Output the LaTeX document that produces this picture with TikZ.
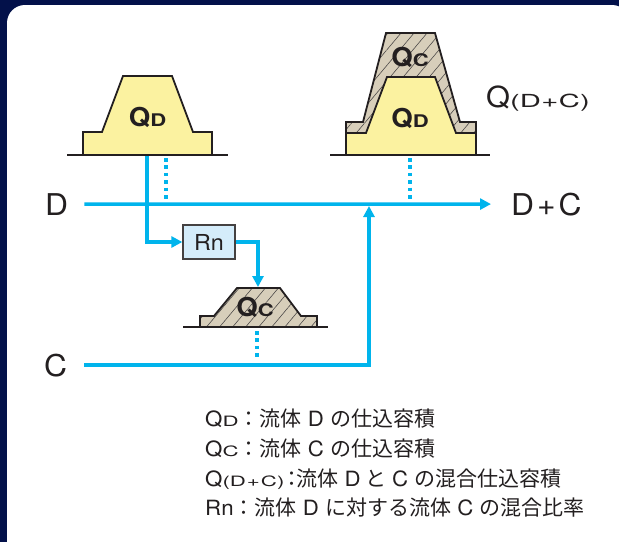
\documentclass[tikz,border=0pt]{standalone}
\usepackage{graphicx}
\usepackage{fontspec}
\setmainfont[FakeStretch=1.06]{TeX Gyre Heros}
\newfontfamily\jpfont{Noto Sans CJK JP}
\usetikzlibrary{positioning,arrows.meta,patterns.meta}

\definecolor{navy}{RGB}{3,17,74}
\definecolor{flow}{RGB}{0,180,236}
\definecolor{sand}{RGB}{251,242,160}
\definecolor{mud}{RGB}{215,206,186}
\definecolor{ink}{RGB}{35,31,32}
\definecolor{boxblue}{RGB}{212,236,250}

\newcommand\ja[1]{{\jpfont #1}}
% reduced letters: full width, squashed height
\newcommand\lsub[1]{\scalebox{1}[0.68]{#1}}
\newcommand\msub[1]{\scalebox{0.8}[0.67]{#1}}
\newcommand\qsub[1]{\scalebox{0.95}[0.62]{#1}}

\tikzset{
  flowline/.style={draw=flow, line width=3.4pt, line join=miter},
  flowarrow/.style={flowline, -{Triangle[length=11pt,width=11pt]}},
  dotline/.style={draw=flow, line width=3.4pt, dash pattern=on 3.6pt off 3.8pt},
  ground/.style={draw=ink, line width=1.8pt},
  dry/.style={draw=ink, line width=1.8pt, fill=sand},
  wet/.style={draw=ink, line width=1.8pt, preaction={fill=mud},
    pattern={Lines[angle=50,distance=10pt,line width=0.55pt]}, pattern color=ink!85},
  biglabel/.style={font=\fontsize{30}{30}\selectfont, anchor=base west},
  moundlabel/.style={font=\fontsize{26}{26}\selectfont\bfseries, anchor=base},
  legend/.style={font=\fontsize{21}{21}\selectfont, anchor=base west},
  ratiobox/.style={draw=ink!85, line width=1.3pt, fill=boxblue,
    minimum width=52pt, minimum height=34pt, font=\fontsize{22}{22}\selectfont}
}

\begin{document}
\begin{tikzpicture}[x=1pt, y=-1pt, every node/.style={inner sep=0pt, text=ink}]
\useasboundingbox (0,0) rectangle (619,542);
\fill[navy] (0,0) rectangle (619,542);
\fill[white, rounded corners=18pt] (7,5) rectangle (630,560);

% fluid D alone
\filldraw[dry] (83,155) -- (83,132) -- (102,132) -- (123,76) -- (172,76)
  -- (193,132) -- (212,132) -- (212,155) -- cycle;
\draw[ground] (67,155) -- (228,155);
\node[moundlabel] (qd) at (147.5,126) {Q\msub{D}};

% fluid C alone
\filldraw[wet] (200,327) -- (200,316) -- (214,316) -- (237,288) -- (280,288)
  -- (301,316) -- (317,316) -- (317,327) -- cycle;
\draw[ground] (183,327) -- (328,327);
\node[moundlabel] (qc) at (255,316) {Q\msub{C}};

% mixed D+C
\filldraw[wet] (346,155) -- (346,122) -- (363,122) -- (386,33) -- (435,33)
  -- (460,122) -- (476,122) -- (476,155) -- cycle;
\filldraw[dry] (346,155) -- (346,133) -- (366,133) -- (387,77) -- (435,77)
  -- (456,133) -- (476,133) -- (476,155) -- cycle;
\draw[ground] (330,155) -- (490,155);
\node[moundlabel] (qdmix) at (410,127) {Q\msub{D}};
\node[moundlabel] (qcmix) at (410,66) {Q\msub{C}};
\node[font=\fontsize{29}{29}\selectfont, anchor=base west] (qdc) at (486,107)
  {Q\qsub{(D\kern0.5pt+\kern0.5pt C)}};

% streams
\node[biglabel] (dlabel) at (45,215) {D};
\node[biglabel] (clabel) at (44,376) {C};
\node[biglabel] (dclabel) at (511,215) {D\kern3pt+\kern3pt C};
\node[ratiobox] (rn) at (209,242) {Rn};

\coordinate[right=16pt of dlabel] (dsrc);
\coordinate[left=20pt of dclabel] (dend);
\coordinate[right=17pt of clabel] (csrc);
\coordinate (join) at (369,206);
\coordinate (qdout) at (147,156);
\coordinate (qcin) at (258,287);

\draw[flowarrow] (dsrc) -- (dend);
\draw[flowarrow] (csrc) -| (join);
\draw[flowarrow] (qdout) |- (rn.west);
\draw[flowarrow] (rn.east) -| (qcin);

\coordinate (dottop1) at (166,158);
\coordinate (dotend1) at (166,201);
\coordinate (dottop2) at (410,158);
\coordinate (dotend2) at (410,201);
\coordinate (dottop3) at (257,331);
\coordinate (dotend3) at (257,360);
\draw[dotline] (dottop1) -- (dotend1);
\draw[dotline] (dottop2) -- (dotend2);
\draw[dotline] (dottop3) -- (dotend3);

% key
\node[legend] (key1) at (205,426) {Q\lsub{D}\ja{：流体} D \ja{の仕込容積}};
\node[legend] (key2) at (205,456) {Q\lsub{C}\ja{：流体} C \ja{の仕込容積}};
\node[legend] (key3) at (205,486) {Q\lsub{(D\kern1pt+\kern1pt C)}\kern-3pt\ja{：}\kern-6pt\ja{流体} D\kern-1pt\ \ja{と}\kern-1pt\ C \ja{の混合仕込容積}};
\node[legend] (key4) at (205,515) {Rn\ja{：流体} D \ja{に対する流体} C \ja{の混合比率}};
\end{tikzpicture}
\end{document}
